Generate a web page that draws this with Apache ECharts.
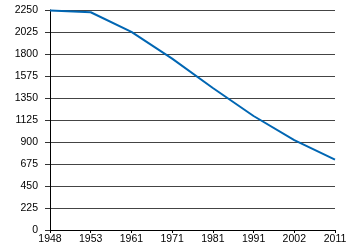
<!DOCTYPE html>
<html><head><meta charset="utf-8">
<script src="https://cdn.jsdelivr.net/npm/echarts@6/dist/echarts.min.js"></script>
<style>html,body{margin:0;padding:0;background:#fff}#c{width:350px;height:250px}</style>
</head><body><div id="c"></div>
<script>
var years = ['1948','1953','1961','1971','1981','1991','2002','2011'];
var values = [2245, 2227, 2026, 1753, 1452, 1166, 920, 720];
var chart = echarts.init(document.getElementById('c'), null, {renderer:'canvas'});
chart.setOption({
  animation:false,
  backgroundColor:'#fff',
  grid:{left:50, right:15, top:10, bottom:20, containLabel:false},
  xAxis:{type:'category', data:years, boundaryGap:false,
    axisLine:{lineStyle:{color:'#000', width:1}},
    axisTick:{show:true, length:3, alignWithLabel:true, lineStyle:{color:'#000'}},
    axisLabel:{color:'#000', fontFamily:'Liberation Sans, Arial', fontSize:10.5, margin:4, showMinLabel:true, showMaxLabel:true, interval:0},
    splitLine:{show:false}},
  yAxis:{type:'value', min:0, max:2250, interval:225,
    axisLine:{show:true, lineStyle:{color:'#000', width:1}},
    axisTick:{show:true, length:5, lineStyle:{color:'#333'}},
    axisLabel:{color:'#000', fontFamily:'Liberation Sans, Arial', fontSize:10.5, margin:12,
      formatter:function(v){return String(v);}},
    splitLine:{show:true, lineStyle:{color:'#444', width:1}}},
  series:[{type:'line', data:values, symbol:'none', lineStyle:{color:'#0066b3', width:2}}]
});
</script></body></html>
